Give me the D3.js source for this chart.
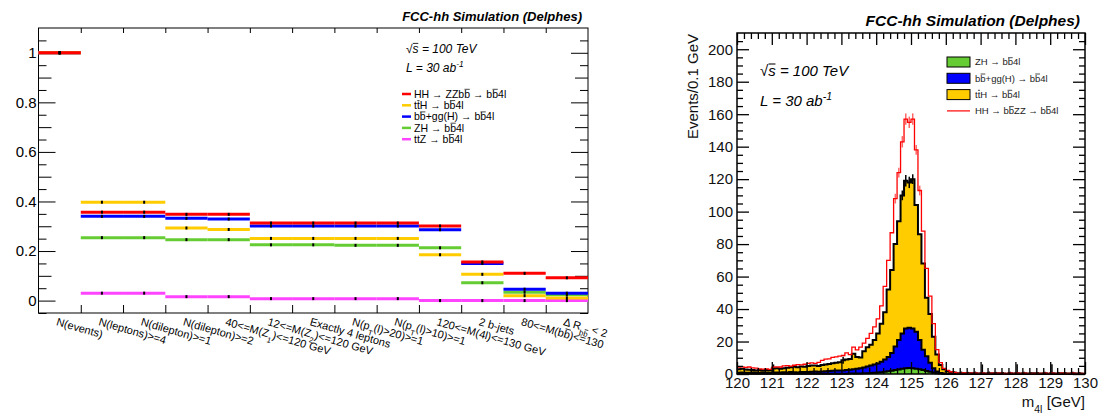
<!DOCTYPE html>
<html>
<head>
<meta charset="utf-8">
<script src="https://cdn.jsdelivr.net/npm/d3@7"></script>
<style>
  body { margin: 0; background: #fff; }
  text { font-family: "Liberation Sans", Arial, sans-serif; }
</style>
</head>
<body>
<div id="vis"></div>
<script>
const W = 1099, H = 416;

// ---- cut flow (left) ----
const cutLabels = ["N(events)", "N(leptons)>=4", "N(dilepton)>=1", "N(dilepton)>=2",
  "40<=M(Z_{1})<=120 GeV", "12<=M(Z_{2})<=120 GeV", "Exactly 4 leptons",
  "N(p_{T}(l)>20)>=1", "N(p_{T}(l)>10)>=1", "120<=M(4l)<=130 GeV", "2 b-jets",
  "80<=M(b~b)<=130", "Δ R_{b~b} < 2"];
const effHH  = [1, 0.357, 0.357, 0.348, 0.348, 0.313, 0.313, 0.313, 0.313, 0.301, 0.156, 0.110, 0.092];
const effTTH = [1, 0.397, 0.397, 0.293, 0.287, 0.251, 0.251, 0.251, 0.251, 0.185, 0.106, 0.020, 0.011];
const effBBH = [1, 0.340, 0.340, 0.332, 0.329, 0.301, 0.301, 0.301, 0.301, 0.286, 0.150, 0.046, 0.030];
const effZH  = [1, 0.254, 0.254, 0.246, 0.246, 0.225, 0.225, 0.223, 0.223, 0.213, 0.072, 0.034, 0.024];
const effTTZ = [1, 0.030, 0.030, 0.016, 0.016, 0.008, 0.008, 0.008, 0.008, 0.0, 0.0, 0.0, 0.0];
const yTicksL = [0, 0.2, 0.4, 0.6, 0.8, 1];

// ---- m4l histograms (right), 0.1 GeV bins from 120 to 130 ----
const m4lEdges = [120, 130];
const histZH = [0.1,0.1,0.1,0.1,0.1,0.1,0.1,0.1,0.1,0.1,
  0.1,0.1,0.1,0.1,0.1,0.1,0.1,0.1,0.1,0.1,
  0.1,0.1,0.1,0.1,0.2,0.2,0.2,0.2,0.2,0.2,
  0.2,0.2,0.3,0.3,0.3,0.3,0.4,0.5,0.6,0.7,
  0.9,1.1,1.4,1.7,2.0,2.4,2.8,3.2,3.5,3.7,
  3.6,3.3,2.9,2.4,1.9,1.4,0.9,0.5,0.3,0.2,
  0.1,0.1,0,0,0,0,0,0,0,0,
  0,0,0,0,0,0,0,0,0,0,
  0,0,0,0,0,0,0,0,0,0,
  0,0,0,0,0,0,0,0,0,0];
const histBBH = [0.7,0.8,0.6,0.7,0.8,0.7,0.6,0.8,0.9,0.7,
  0.8,0.9,0.8,1.0,0.9,1.1,1.0,0.9,1.1,1.2,
  1.2,1.3,1.4,1.3,1.4,1.5,1.6,1.8,1.9,2.0,
  2.0,2.2,2.3,2.6,2.9,3.3,3.6,4.1,4.6,5.1,
  5.6,6.4,7.6,8.8,11.0,14.6,18.2,21.8,24.5,24.8,
  24.4,22.7,18.1,12.6,9.1,5.6,2.7,1.1,0.3,0.1,
  0.1,0,0.1,0,0.1,0,0,0.1,0,0,
  0,0,0,0,0,0,0,0,0,0,
  0,0,0,0,0,0,0,0,0,0,
  0,0,0,0,0,0,0,0,0,0];
const histTTH = [2.2,2.3,2.1,1.8,1.5,1.4,1.7,1.3,1.5,1.5,
  2.5,2.6,2.4,2.4,2.9,3.0,3.3,3.1,3.4,3.1,
  3.7,3.9,3.7,3.6,4.0,4.1,4.4,4.6,4.8,5.0,
  6.3,6.6,6.6,9.6,7.3,6.6,10.0,11.9,12.8,15.2,
  18.5,23.5,29,41.5,51,63,73,85,91,89.5,
  92,78,65,53,36,30,19.4,10.4,4.9,2.7,
  1.6,0.9,0.6,0.5,0.4,0.5,0.3,0.4,0.5,0.3,
  0.4,0.3,0.5,0.4,0.3,0.4,0.3,0.2,0.4,0.3,
  0.5,0.3,0.4,0.3,0.2,0.4,0.3,0.3,0.4,0.2,
  0.5,0.3,0.3,0.4,0.2,0.3,0.4,0.3,0.3,0.2];
const histHH = [4.2,4.4,4.1,4.3,3.8,3.6,3.1,3.0,3.2,2.9,
  4.2,4.4,4.3,5.0,5.2,4.9,5.4,5.8,5.6,6.0,
  6.6,6.9,6.5,7.2,8.4,9.1,9.3,10.2,10.6,11.0,
  11.4,13.0,11.9,16.5,14.8,16.6,19.0,22.0,25.0,29.0,
  34,42,54,70,87,108,124,143,157,155,
  157,138,113,88,65,48,31,15,7,3.5,
  2.2,1.4,1.0,0.6,0.5,0.7,0.4,0.5,0.6,0.4,
  0.5,0.4,0.3,0.5,0.4,0.5,0.3,0.3,0.5,0.4,
  0.6,0.4,0.5,0.4,0.3,0.3,0.4,0.4,0.5,0.3,
  0.6,0.4,0.4,0.5,0.3,0.4,0.5,0.4,0.4,0.3];
// error bars on the stack total: [bin, half height]
const stackErr = [[10,2.5],[30,2.2],[47,3],[48,3.5],[49,3.5],[50,3],[62,1],[64,1],[66,1],[68,1],
  [70,5.5],[72,1],[74,1],[76,1],[78,1],[80,5.5],[82,1],[84,1],[86,1],[88,1],[90,5.5],[92,1],[94,1],[96,1],[98,1]];
const hhErr = [[45,3],[46,3],[47,3.5],[48,3.5],[49,3.5],[50,3.5],[51,3],[52,3]];

const col = {hh: "#ff0000", tth: "#ffcc00", bbh: "#0000ff", zh: "#66cc33", ttz: "#ff44ff"};

const svg = d3.select("#vis").append("svg")
    .attr("width", W)
    .attr("height", H);

// small markup: _{..} sub, ^{..} sup, ~x overlined char
function fill(sel, str) {
    const parts = str.split(/(_\{[^}]*\}|\^\{[^}]*\}|~.)/);
    parts.forEach((p) => {
        if (!p) return;
        let m;
        if ((m = p.match(/^_\{(.*)\}$/))) {
            fill(sel.append("tspan").attr("baseline-shift", "sub").attr("font-size", "70%"), m[1]);
        } else if ((m = p.match(/^\^\{(.*)\}$/))) {
            fill(sel.append("tspan").attr("baseline-shift", "super").attr("font-size", "70%"), m[1]);
        } else if (p[0] == "~") {
            sel.append("tspan").attr("class", "ovl").text(p[1]);
        } else {
            sel.append("tspan").text(p);
        }
    });
}
function rich(parent, x, y, str, size, transform) {
    const g = parent.append("g").attr("transform", transform || null);
    const t = g.append("text").attr("x", x).attr("y", y).attr("font-size", size + "px");
    fill(t, str);
    const node = t.node();
    t.selectAll("tspan.ovl").each(function () {
        const idx = node.getCharNumAtPosition ? null : null;
        const a = this.getStartPositionOfChar(0), b = this.getEndPositionOfChar(0);
        const fs = parseFloat(getComputedStyle(this).fontSize);
        g.append("line")
            .attr("x1", a.x + 0.3).attr("x2", b.x - 0.3)
            .attr("y1", a.y - fs * 0.8).attr("y2", a.y - fs * 0.8)
            .attr("stroke", t.attr("fill") || "#000")
            .attr("stroke-width", Math.max(0.7, fs * 0.07));
    });
    return t;
}

// ================= left panel =================
const L = {x0: 38.5, x1: 588, y0: 28, y1: 313};
const xL = d3.scaleLinear().domain([0, cutLabels.length]).range([L.x0, L.x1]);
const yL = d3.scaleLinear().domain([-0.05, 1.1]).range([L.y1, L.y0]);

const gL = svg.append("g");

function yAxisL(axisFn, x, vals, size, labels) {
    const a = gL.append("g")
        .attr("transform", "translate(" + x + ",0)")
        .call(axisFn(yL).tickValues(vals).tickSize(-size).tickPadding(2)
            .tickFormat(labels ? d3.format("") : ""));
    a.select(".domain").remove();
    a.selectAll("text").attr("font-size", "15px").attr("font-family", "Liberation Sans");
    a.selectAll("line").attr("stroke", "#000");
    return a;
}
const midL = [0.1, 0.3, 0.5, 0.7, 0.9];
const minL = [-0.05, 0.05, 0.15, 0.25, 0.35, 0.45, 0.55, 0.65, 0.75, 0.85, 0.95, 1.05];
yAxisL(d3.axisLeft, L.x0, yTicksL, 17, true);
yAxisL(d3.axisLeft, L.x0, midL, 13, false);
yAxisL(d3.axisLeft, L.x0, minL, 8, false);
yAxisL(d3.axisRight, L.x1, yTicksL, 17, false);
yAxisL(d3.axisRight, L.x1, midL, 13, false);
yAxisL(d3.axisRight, L.x1, minL, 8, false);

const xb = gL.append("g")
    .attr("transform", "translate(0," + L.y1 + ")")
    .call(d3.axisBottom(xL).tickValues(d3.range(1, cutLabels.length)).tickSize(-8).tickFormat(""));
xb.select(".domain").remove();
const xt = gL.append("g")
    .attr("transform", "translate(0," + L.y0 + ")")
    .call(d3.axisTop(xL).tickValues(d3.range(1, cutLabels.length)).tickSize(-5).tickFormat(""));
xt.select(".domain").remove();

gL.append("rect")
    .attr("x", L.x0).attr("y", L.y0)
    .attr("width", L.x1 - L.x0).attr("height", L.y1 - L.y0)
    .attr("fill", "none").attr("stroke", "#000").attr("stroke-width", 1);

cutLabels.forEach((lab, i) => {
    const x = xL(i + 0.5) - 4, y = L.y1 + 12;
    rich(gL, 0, 0, lab, 11, "translate(" + x + "," + y + ") rotate(16)");
});

const effSeries = [
    {v: effTTZ, c: col.ttz}, {v: effZH, c: col.zh}, {v: effBBH, c: col.bbh},
    {v: effTTH, c: col.tth}, {v: effHH, c: col.hh}];
effSeries.forEach((s) => {
    gL.selectAll(null)
        .data(s.v)
        .enter()
        .append("line")
            .attr("x1", (d, i) => xL(i))
            .attr("x2", (d, i) => xL(i + 1))
            .attr("y1", (d) => yL(d))
            .attr("y2", (d) => yL(d))
            .attr("stroke", s.c)
            .attr("stroke-width", 3);
});
effSeries.forEach((s) => {
    gL.selectAll(null)
        .data(s.v)
        .enter()
        .append("rect")
            .attr("x", (d, i) => xL(i + 0.5) - 1)
            .attr("y", (d) => yL(d) - 1.5)
            .attr("width", 2)
            .attr("height", 3)
            .attr("fill", "#000");
});

gL.append("text")
    .attr("x", 582).attr("y", 21)
    .attr("text-anchor", "end")
    .attr("font-size", "13px").attr("font-weight", "bold").attr("font-style", "italic")
    .text("FCC-hh Simulation (Delphes)");
rich(gL, 406, 53, "√~s = 100 TeV", 12).attr("font-style", "italic");
rich(gL, 406, 72, "L = 30 ab^{-1}", 12).attr("font-style", "italic");

const legL = [
    {t: "HH → ZZb~b → b~b4l", c: col.hh}, {t: "t~tH → b~b4l", c: col.tth},
    {t: "b~b+gg(H) → b~b4l", c: col.bbh}, {t: "ZH → b~b4l", c: col.zh},
    {t: "ttZ → b~b4l", c: col.ttz}];
legL.forEach((e, i) => {
    const y = 94 + i * 11.3;
    gL.append("line").attr("x1", 402).attr("x2", 411).attr("y1", y).attr("y2", y)
        .attr("stroke", e.c).attr("stroke-width", 2.5);
    rich(gL, 414, y + 3.7, e.t, 10.5);
});

// ================= right panel =================
const R = {x0: 737, x1: 1085, y0: 33, y1: 374};
const nb = histHH.length;
const bw = (m4lEdges[1] - m4lEdges[0]) / nb;
const xR = d3.scaleLinear().domain(m4lEdges).range([R.x0, R.x1]);
const yR = d3.scaleLinear().domain([0, 210]).range([R.y1, R.y0]);
const edge = (i) => m4lEdges[0] + i * bw;

const gR = svg.append("g");

const rows = histZH.map((d, i) => ({zh: d, bbh: histBBH[i], tth: histTTH[i]}));
const stacked = d3.stack().keys(["zh", "bbh", "tth"])(rows);

const area = d3.area()
    .x((d) => xR(edge(d.i)))
    .y0((d) => yR(d.lo))
    .y1((d) => yR(d.hi))
    .curve(d3.curveStepAfter);
const step = d3.line()
    .x((d) => xR(edge(d.i)))
    .y((d) => yR(d.hi))
    .curve(d3.curveStepAfter);
const withEnd = (arr) => arr.concat([Object.assign({}, arr[arr.length - 1], {i: arr.length})]);

stacked.forEach((layer) => {
    const pts = withEnd(layer.map((d, i) => ({i: i, lo: d[0], hi: d[1]})));
    gR.append("path").attr("d", area(pts)).attr("fill", col[layer.key]);
});
stacked.forEach((layer) => {
    const pts = withEnd(layer.map((d, i) => ({i: i, lo: d[0], hi: d[1]})));
    gR.append("path").attr("d", step(pts)).attr("fill", "none")
        .attr("stroke", "#000").attr("stroke-width", 2);
});
const stackTop = stacked[2];
gR.selectAll(null)
    .data(stackErr)
    .enter()
    .append("line")
        .attr("x1", (d) => xR(edge(d[0] + 0.5)))
        .attr("x2", (d) => xR(edge(d[0] + 0.5)))
        .attr("y1", (d) => yR(Math.max(0, stackTop[d[0]][1] - d[1])))
        .attr("y2", (d) => yR(stackTop[d[0]][1] + d[1]))
        .attr("stroke", "#000").attr("stroke-width", 1.5);

const hhPts = withEnd(histHH.map((d, i) => ({i: i, hi: d})));
gR.append("path").attr("d", step(hhPts)).attr("fill", "none")
    .attr("stroke", col.hh).attr("stroke-width", 1.3);
gR.selectAll(null)
    .data(hhErr)
    .enter()
    .append("line")
        .attr("x1", (d) => xR(edge(d[0] + 0.5)))
        .attr("x2", (d) => xR(edge(d[0] + 0.5)))
        .attr("y1", (d) => yR(histHH[d[0]] - d[1]))
        .attr("y2", (d) => yR(histHH[d[0]] + d[1]))
        .attr("stroke", col.hh).attr("stroke-opacity", 0.6).attr("stroke-width", 1.5);

function axR(g) {
    g.select(".domain").remove();
    g.selectAll("line").attr("stroke", "#000").attr("stroke-width", 1.3);
    g.selectAll("text").attr("font-size", "15px").attr("font-family", "Liberation Sans").attr("fill", "#111");
}
const minorY = d3.range(5, 210, 5).filter((v) => v % 20);
const minorX = d3.range(0, 50).map((i) => 120 + i * 0.2).filter((v, i) => i % 5);
axR(gR.append("g").attr("transform", "translate(" + R.x0 + ",0)")
    .call(d3.axisLeft(yR).tickValues(d3.range(0, 201, 20)).tickSize(-12).tickPadding(4)));
axR(gR.append("g").attr("transform", "translate(" + R.x0 + ",0)")
    .call(d3.axisLeft(yR).tickValues(minorY).tickSize(-6).tickFormat("")));
axR(gR.append("g").attr("transform", "translate(" + R.x1 + ",0)")
    .call(d3.axisRight(yR).tickValues(d3.range(0, 201, 20)).tickSize(-12).tickFormat("")));
axR(gR.append("g").attr("transform", "translate(" + R.x1 + ",0)")
    .call(d3.axisRight(yR).tickValues(minorY).tickSize(-6).tickFormat("")));
axR(gR.append("g").attr("transform", "translate(0," + R.y1 + ")")
    .call(d3.axisBottom(xR).tickValues(d3.range(120, 131)).tickSize(-12).tickPadding(3).tickFormat(d3.format("d"))));
axR(gR.append("g").attr("transform", "translate(0," + R.y1 + ")")
    .call(d3.axisBottom(xR).tickValues(minorX).tickSize(-6).tickFormat("")));
axR(gR.append("g").attr("transform", "translate(0," + R.y0 + ")")
    .call(d3.axisTop(xR).tickValues(d3.range(120, 131)).tickSize(-12).tickFormat("")));
axR(gR.append("g").attr("transform", "translate(0," + R.y0 + ")")
    .call(d3.axisTop(xR).tickValues(minorX).tickSize(-6).tickFormat("")));

gR.append("rect")
    .attr("x", R.x0).attr("y", R.y0)
    .attr("width", R.x1 - R.x0).attr("height", R.y1 - R.y0)
    .attr("fill", "none").attr("stroke", "#000").attr("stroke-width", 1.5);

gR.append("text")
    .attr("x", 1080).attr("y", 26)
    .attr("text-anchor", "end")
    .attr("font-size", "15.5px").attr("font-weight", "bold").attr("font-style", "italic")
    .text("FCC-hh Simulation (Delphes)");
gR.append("text")
    .attr("transform", "translate(698,34) rotate(-90)")
    .attr("text-anchor", "end")
    .attr("font-size", "15px").attr("fill", "#111")
    .text("Events/0.1 GeV");
rich(gR, 1085, 407, "m_{4l} [GeV]", 15).attr("text-anchor", "end").attr("fill", "#111");
rich(gR, 760, 76, "√~s = 100 TeV", 15).attr("font-style", "italic");
rich(gR, 760, 106, "L = 30 ab^{-1}", 15).attr("font-style", "italic");

const legR = [
    {t: "ZH → b~b4l", c: col.zh, box: true}, {t: "b~b+gg(H) → b~b4l", c: col.bbh, box: true},
    {t: "t~tH → b~b4l", c: col.tth, box: true}, {t: "HH → b~bZZ → b~b4l", c: col.hh, box: false}];
legR.forEach((e, i) => {
    const y = 62 + i * 16.3;
    if (e.box) {
        gR.append("rect").attr("x", 947).attr("y", y - 5).attr("width", 23).attr("height", 10)
            .attr("fill", e.c).attr("stroke", "#000").attr("stroke-width", 1);
    } else {
        gR.append("line").attr("x1", 947).attr("x2", 970).attr("y1", y).attr("y2", y)
            .attr("stroke", e.c).attr("stroke-width", 1.2);
    }
    rich(gR, 975, y + 3.3, e.t, 9.5).attr("fill", "#222");
});
</script>
</body>
</html>
